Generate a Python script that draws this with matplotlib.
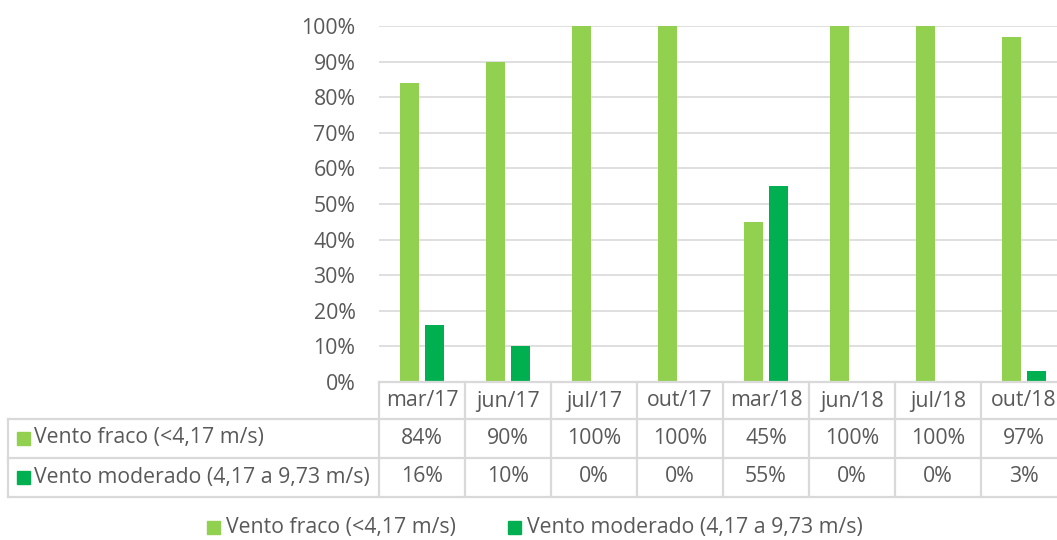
import matplotlib
matplotlib.use("Agg")
import matplotlib.pyplot as plt
from matplotlib.transforms import blended_transform_factory
from matplotlib.patches import Rectangle
from matplotlib.lines import Line2D
import numpy as np

categories = ["mar/17", "jun/17", "jul/17", "out/17", "mar/18", "jun/18", "jul/18", "out/18"]
series_names = ["Vento fraco (<4,17 m/s)", "Vento moderado (4,17 a 9,73 m/s)"]
fraco = [84, 90, 100, 100, 45, 100, 100, 97]
moderado = [16, 10, 0, 0, 55, 0, 0, 3]
yticks = [0, 10, 20, 30, 40, 50, 60, 70, 80, 90, 100]

colors = ["#92D050", "#00B050"]
text_color = "#595959"
grid_color = "#D9D9D9"
plt.rcParams['font.family'] = ['Open Sans', 'DejaVu Sans']
fs = 15.3

W, H = 1057, 540
fig = plt.figure(figsize=(W / 100, H / 100), dpi=100)

def fx(px):
    return px / W

def fy(py):
    return 1 - py / H

ax_left, ax_right, ax_top, ax_bot = 379, 1067, 26, 382
ax = fig.add_axes([fx(ax_left), fy(ax_bot), fx(ax_right - ax_left), (ax_bot - ax_top) / H])

n = len(categories)
x = np.arange(n)
bw = 0.22
off = 0.145
ax.bar(x - off, np.array(fraco) / 100, bw, color=colors[0], zorder=3)
ax.bar(x + off, np.array(moderado) / 100, bw, color=colors[1], zorder=3)

ax.set_xlim(-0.5, n - 0.5)
ax.set_ylim(0, 1)
ax.set_yticks([v / 100 for v in yticks])
ax.set_yticklabels([f"{v}%" for v in yticks], fontsize=fs, color=text_color)
ax.tick_params(axis='y', length=0, pad=17)
ax.set_xticks([])
ax.grid(axis='y', color=grid_color, linewidth=1.2, zorder=0)
for s in ax.spines.values():
    s.set_visible(False)

# data table
tr = blended_transform_factory(ax.transData, fig.transFigure)
row_y = [ax_bot, 419, 458, 497]
lw = 1.6
for i, py in enumerate(row_y):
    if i == 0:
        fig.add_artist(Line2D([fx(ax_left), 1.0], [fy(py)] * 2, color=grid_color, lw=lw))
    else:
        fig.add_artist(Line2D([fx(8), 1.0], [fy(py)] * 2, color=grid_color, lw=lw))
for b in np.arange(n + 1) - 0.5:
    ax.add_artist(Line2D([b, b], [fy(ax_bot), fy(497)], transform=tr, color=grid_color, lw=lw, clip_on=False))
fig.add_artist(Line2D([fx(8)] * 2, [fy(419), fy(497)], color=grid_color, lw=lw))

for i, c in enumerate(categories):
    ax.text(i, fy(401), c, transform=tr, ha='center', va='center', fontsize=fs, color=text_color, clip_on=False)
rows = [fraco, moderado]
row_centers = [438, 477]
for r, (vals, name, col, yc) in enumerate(zip(rows, series_names, colors, row_centers)):
    fig.add_artist(Rectangle((fx(17), fy(yc + 6.5)), fx(13), 13 / H, color=col))
    fig.text(fx(34), fy(yc), name, ha='left', va='center', fontsize=fs, color=text_color)
    for i, v in enumerate(vals):
        ax.text(i, fy(yc), f"{v}%", transform=tr, ha='center', va='center', fontsize=fs, color=text_color, clip_on=False)

leg_y = 527
leg_items = [(207, 226), (508, 527)]
for (sx, tx), name, col in zip(leg_items, series_names, colors):
    fig.add_artist(Rectangle((fx(sx), fy(leg_y + 6.5)), fx(13), 13 / H, color=col))
    fig.text(fx(tx), fy(leg_y), name, ha='left', va='center', fontsize=fs, color=text_color)

fig.savefig("out.png", dpi=100)
